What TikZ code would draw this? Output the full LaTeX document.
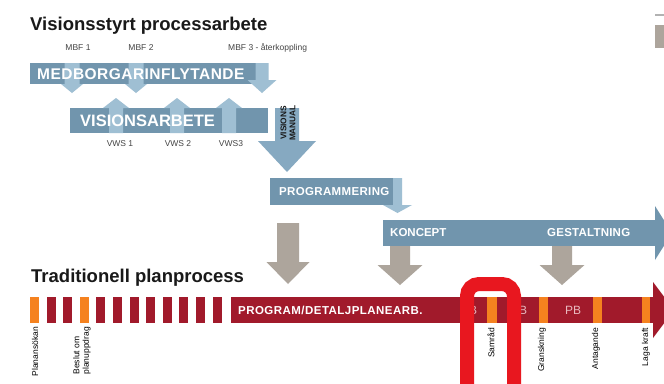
\documentclass[tikz,border=0pt]{standalone}
\usepackage{fontspec}
\setmainfont{Liberation Sans}
\definecolor{barblue}{HTML}{7195AD}
\definecolor{lightblue}{HTML}{9FBFD3}
\definecolor{midblue}{HTML}{86A9C1}
\definecolor{taupe}{HTML}{ADA59C}
\definecolor{darkred}{HTML}{A11A2B}
\definecolor{orng}{HTML}{F5821F}
\definecolor{boxred}{HTML}{E8171F}
\definecolor{pbtext}{HTML}{E9B9BE}
\definecolor{labgray}{HTML}{444444}
% center, shaft start, shaft width, head base, head width, tip, colour
\newcommand\blockarrow[7]{%
  \fill[#7] ({#1-#3/2},#2) -- ({#1+#3/2},#2) -- ({#1+#3/2},#4) -- ({#1+#5/2},#4)
    -- (#1,#6) -- ({#1-#5/2},#4) -- ({#1-#3/2},#4) -- cycle;}
\begin{document}
\begin{tikzpicture}[x=1pt,y=-1pt,
  barbox/.style={fill=#1, inner sep=0pt, outer sep=0pt, anchor=north west},
  bartext/.style={text=white, anchor=west, inner sep=0pt, font=\bfseries\fontsize{#1}{#1}\selectfont},
  heading/.style={anchor=base west, inner sep=0pt, text=black!90, font=\bfseries\fontsize{18.5}{20}\selectfont},
  small/.style={inner sep=0pt, text=labgray, font=\fontsize{8.5}{9}\selectfont},
  vlabel/.style={rotate=90, anchor=east, inner sep=0pt, align=left, text=black, font=\fontsize{8.5}{9.5}\selectfont},
  strip/.style={fill=#1, inner sep=0pt, outer sep=0pt, anchor=north west, minimum width=9pt, minimum height=26pt}]
\useasboundingbox (0,0) rectangle (664,383);
\clip (0,0) rectangle (664,383);
\fill[white] (0,0) rectangle (664,383);

% top right fragments
\fill[black!30] (655,14) rectangle (664,16);
\fill[taupe] (655,25) rectangle (664,48);

% ---- Visionsstyrt processarbete
\node[heading] (t1) at (30,30) {Visionsstyrt processarbete};
\node[small, anchor=base] (mbf1) at (78,50) {MBF 1};
\node[small, anchor=base] (mbf2) at (141,50) {MBF 2};
\node[small, anchor=base west] (mbf3) at (228,50) {MBF 3 - återkoppling};

\node[barbox=barblue, minimum width=238pt, minimum height=21pt] (med) at (30,63) {};
\blockarrow{72}{63}{15}{84}{22}{93}{lightblue}
\blockarrow{136}{63}{15}{84}{22}{93}{lightblue}
\blockarrow{262}{63}{13}{80}{29}{93}{lightblue}
\node[bartext=15.5] (medt) at (37,74.5) {\addfontfeatures{LetterSpace=3}MEDBORGARINFLYTANDE};

\node[barbox=barblue, minimum width=198pt, minimum height=25pt] (vis) at (70,108) {};
\blockarrow{116}{133}{14}{108}{26}{98}{lightblue}
\blockarrow{177}{133}{14}{108}{26}{98}{lightblue}
\blockarrow{229}{133}{14}{108}{26}{98}{lightblue}
\node[bartext=16.5] (vist) at (80,121) {VISIONSARBETE};
\node[small, anchor=base] (vws1) at (120,146) {VWS 1};
\node[small, anchor=base] (vws2) at (178,146) {VWS 2};
\node[small, anchor=base] (vws3) at (231,146) {VWS3};

\blockarrow{287}{108}{24}{141}{58}{172}{midblue}
\node[rotate=90, inner sep=0pt, align=center, text=black!90,
  font=\bfseries\fontsize{8.3}{9}\selectfont] (vm) at (288,123) {VISIONS\\MANUAL};

% ---- Programmering / koncept / gestaltning
\node[barbox=barblue, minimum width=132pt, minimum height=27pt] (prog) at (270,178) {};
\blockarrow{397.5}{178}{9}{205}{29}{213}{lightblue}
\node[bartext=11.5] (progt) at (279,192) {\addfontfeatures{LetterSpace=3}PROGRAMMERING};

\node[barbox=barblue, minimum width=272pt, minimum height=26pt] (kon) at (383,220) {};
\fill[barblue] (655,206) -- (672,233) -- (655,260) -- cycle;
\node[bartext=11.5] (kont) at (390,233) {KONCEPT};
\node[bartext=11.5] (gest) at (547,233) {\addfontfeatures{LetterSpace=2}GESTALTNING};

\blockarrow{288}{223}{22}{262}{43}{284}{taupe}
\blockarrow{400}{246}{20}{265}{45}{285}{taupe}
\blockarrow{562}{246}{20}{265}{45}{285}{taupe}

% ---- Traditionell planprocess
\node[heading] (t2) at (31,282) {Traditionell planprocess};
\foreach \i in {0,...,11}{
  \pgfmathsetmacro\xx{30+16.6*\i}
  \ifnum\i=0 \def\cc{orng}\else\ifnum\i=3 \def\cc{orng}\else\def\cc{darkred}\fi\fi
  \node[strip=\cc] (s\i) at (\xx,297) {};
}
\node[barbox=darkred, minimum width=424pt, minimum height=26pt] (pbar) at (231,297) {};
\fill[darkred] (653,282) -- (674,310) -- (653,338) -- cycle;
\node[strip=orng, minimum width=10pt] (samr) at (487,297) {};
\node[strip=orng] (gran) at (539,297) {};
\node[strip=orng] (anta) at (593,297) {};
\node[strip=orng, minimum width=8pt] (laga) at (642,297) {};
\node[bartext=11.5] (pbt) at (238,310) {\addfontfeatures{LetterSpace=4}PROGRAM/DETALJPLANEARB.};
\node[anchor=west, inner sep=0pt, text=pbtext, font=\fontsize{12}{12}\selectfont] (pb1) at (461,310) {PB};
\node[anchor=west, inner sep=0pt, text=pbtext, font=\fontsize{12}{12}\selectfont] (pb2) at (511,310) {PB};
\node[anchor=west, inner sep=0pt, text=pbtext, font=\fontsize{12}{12}\selectfont] (pb3) at (565,310) {PB};

\node[vlabel] (l1) at (35,327) {Planansökan};
\node[vlabel] (l2) at (82,327) {Beslut om\\planuppdrag};
\node[vlabel] (l3) at (491,328) {Samråd};
\node[vlabel] (l4) at (542,328) {Granskning};
\node[vlabel] (l5) at (596,328) {Antagande};
\node[vlabel] (l6) at (646,328) {Laga kraft};

% highlight box
\draw[boxred, line width=14pt, rounded corners=12pt] (467,284) rectangle (514,410);
\end{tikzpicture}
\end{document}
